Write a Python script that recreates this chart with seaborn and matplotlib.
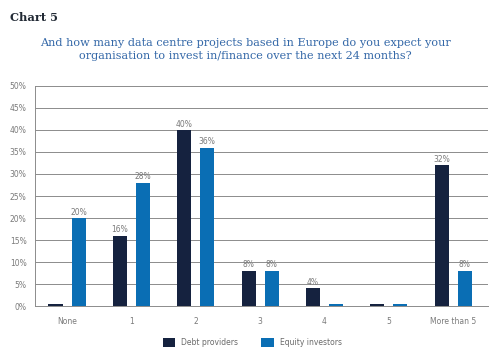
import matplotlib
matplotlib.use("Agg")
import matplotlib.pyplot as plt
import numpy as np
import pandas as pd
import seaborn as sns

categories = ["None", "1", "2", "3", "4", "5", "More than 5"]
debt_providers = [0, 16, 40, 8, 4, 0, 32]
equity_investors = [20, 28, 36, 8, 0, 0, 8]
series_names = ["Debt providers", "Equity investors"]
palette = ["#15223f", "#0a6eb4"]
yticks = [0, 5, 10, 15, 20, 25, 30, 35, 40, 45, 50]

df = pd.DataFrame({
    "category": categories * 2,
    "series": [series_names[0]] * len(categories) + [series_names[1]] * len(categories),
    "value": debt_providers + equity_investors,
})
# zero answers are shown as a hairline stub in the original
df["shown"] = np.maximum(df["value"], 0.4)

sns.set_style("white")
fig = plt.figure(figsize=(4.91, 3.58), dpi=100)
ax = fig.add_axes([0.071, 0.145, 0.923, 0.615])

sns.barplot(data=df, x="category", y="shown", hue="series", order=categories,
            hue_order=series_names, palette=palette, width=0.716, gap=0.39,
            saturation=1, linewidth=0, ax=ax, zorder=3)

for cont, name in zip(ax.containers, series_names):
    vals = df.loc[df["series"] == name, "value"].tolist()
    labels = [f"{v:g}%" if v > 0 else "" for v in vals]
    ax.bar_label(cont, labels=labels, fontsize=5.5, color="#7a7a7a", padding=1)

ax.set_ylim(0, 50)
ax.set_yticks(yticks)
ax.set_yticklabels([f"{t}%" for t in yticks])
ax.set_xlim(-0.5, 6.54)
ax.yaxis.grid(True, color="#8c8c8c", lw=0.7, zorder=0)
ax.set_axisbelow(True)
ax.tick_params(axis="both", labelsize=5.5, labelcolor="#7a7a7a", length=0, pad=6)
ax.tick_params(axis="x", pad=8)
ax.set_xlabel("")
ax.set_ylabel("")
for s in ["top", "right"]:
    ax.spines[s].set_visible(False)
for s in ["left", "bottom"]:
    ax.spines[s].set_color("#8c8c8c")
    ax.spines[s].set_linewidth(0.7)
    ax.spines[s].set_zorder(2)

ax.legend(loc="upper center", bbox_to_anchor=(0.48, -0.115), ncol=2, frameon=False,
          fontsize=5.5, labelcolor="#6a6a6a", handlelength=1.6, handleheight=1.4,
          columnspacing=3, title=None)

fig.text(0.02, 0.95, "Chart 5", fontsize=8.2, fontweight="bold", family="DejaVu Serif",
         color="#222a35", va="center")
fig.text(0.5, 0.862, "And how many data centre projects based in Europe do you expect your\n"
         "organisation to invest in/finance over the next 24 months?",
         fontsize=8.1, family="DejaVu Serif", color="#3468a8", ha="center", va="center",
         linespacing=1.3)

fig.savefig("out.png", dpi=100)
